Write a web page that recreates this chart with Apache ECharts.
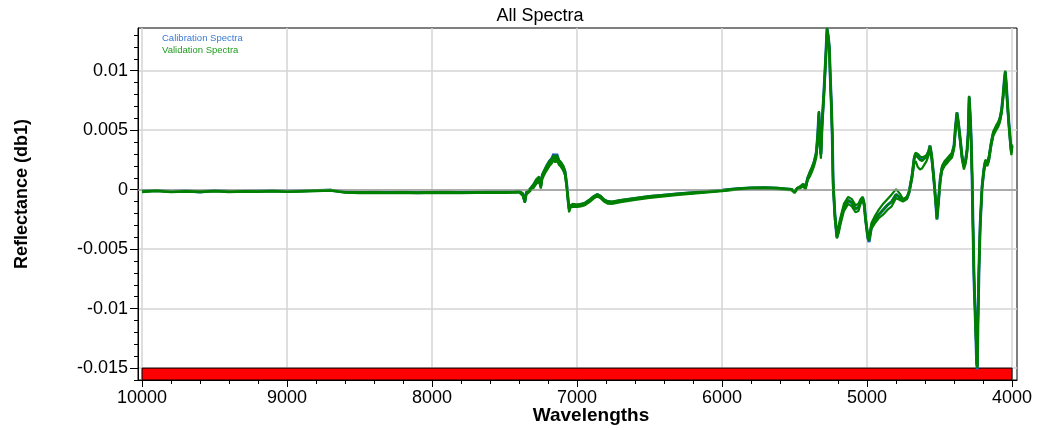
<!DOCTYPE html>
<html><head><meta charset="utf-8">
<script src="https://cdn.jsdelivr.net/npm/echarts@6/dist/echarts.min.js"></script>
<style>html,body{margin:0;padding:0;background:#fff}#c{width:1038px;height:430px}</style>
</head><body><div id="c"></div>
<script>
const wavenumbers = [10000,9900,9800,9700,9600,9500,9400,9300,9200,9100,9000,8900,8800,8700,8600,8500,8400,8300,8200,8100,8000,7900,7800,7700,7600,7500,7430,7400,7375,7360,7350,7330,7300,7280,7262,7250,7240,7220,7205,7190,7175,7160,7150,7140,7125,7110,7095,7083,7072,7062,7055,7045,7030,7000,6975,6945,6910,6880,6860,6840,6815,6790,6760,6700,6600,6500,6400,6300,6200,6100,6000,5900,5800,5700,5620,5560,5520,5500,5480,5460,5440,5425,5410,5395,5380,5365,5350,5340,5332,5325,5318,5310,5297,5284,5276,5268,5260,5254,5246,5240,5234,5222,5208,5195,5185,5160,5130,5105,5080,5060,5045,5030,5020,5010,4995,4986,4970,4945,4920,4890,4860,4830,4800,4790,4770,4752,4740,4725,4710,4690,4675,4665,4650,4635,4620,4605,4590,4575,4566,4555,4542,4530,4518,4507,4495,4483,4465,4450,4430,4414,4400,4390,4380,4370,4358,4345,4332,4320,4310,4302,4296,4289,4283,4276,4269,4262,4252,4244,4240,4235,4228,4220,4207,4195,4185,4170,4160,4145,4130,4110,4095,4083,4072,4062,4054,4047,4040,4032,4022,4012,4005,4000];

const validation1 = [-0.00015,-0.00008,-0.00018,-0.00012,-0.00016,-0.0001,-0.00017,-0.00013,-0.00015,-0.00011,-0.00016,-0.00012,-0.00008,-0.00005,-0.00022,-0.00025,-0.00024,-0.00026,-0.00024,-0.00027,-0.00025,-0.00023,-0.00026,-0.00024,-0.00022,-0.00023,-0.0002,-0.00018,-0.0004,-0.00105,-0.0003,-0.0001,0.0003,0.0007,0.0009,0.0002,0.0011,0.0016,0.0019,0.0022,0.0024,0.0028,0.0025,0.0028,0.0023,0.0021,0.0018,0.0014,0.0004,-0.0009,-0.0017,-0.0014,-0.0013,-0.00135,-0.0013,-0.0012,-0.0009,-0.0006,-0.00045,-0.0006,-0.0009,-0.00107,-0.0011,-0.00095,-0.00078,-0.00062,-0.0005,-0.00038,-0.00028,-0.00018,-0.00008,0.00005,0.00013,0.00014,0.0001,0.00004,0.0,-0.0002,0.0001,0.0002,0.0004,0.0001,0.0009,0.0013,0.0017,0.0022,0.003,0.0045,0.0063,0.0038,0.0029,0.0055,0.0082,0.0113,0.0135,0.0128,0.0118,0.0095,0.007,0.0045,0.0005,-0.0022,-0.0039,-0.0033,-0.0027,-0.0015,-0.0009,-0.0011,-0.0016,-0.0015,-0.001,-0.0007,-0.0012,-0.0025,-0.0039,-0.0042,-0.0031,-0.0025,-0.0021,-0.0017,-0.0013,-0.001,-0.0004,-0.0004,-0.0007,-0.0009,-0.001,-0.0007,-0.0002,0.0011,0.0026,0.0029,0.0027,0.0025,0.0024,0.0026,0.0027,0.0031,0.0036,0.0028,0.0012,-0.0005,-0.0024,-0.0009,0.0009,0.0018,0.0022,0.0024,0.0027,0.0029,0.0036,0.0052,0.0064,0.0055,0.0042,0.0027,0.0019,0.0024,0.0033,0.0048,0.0078,0.0062,0.0045,0.0012,-0.0034,-0.0076,-0.0112,-0.0145,-0.015,-0.0108,-0.0065,-0.003,0.0002,0.0016,0.0023,0.0022,0.0026,0.0038,0.0047,0.0052,0.0055,0.0059,0.0066,0.0078,0.009,0.0099,0.0088,0.0072,0.0055,0.004,0.0031,0.0036];

const validation2 = [-0.0001,-0.00005,-0.00014,-0.00009,-0.00012,-0.00007,-0.00013,-0.0001,-0.00011,-0.00008,-0.00012,-0.00009,-0.00005,-0.00002,-0.00018,-0.00021,-0.0002,-0.00022,-0.0002,-0.00023,-0.00021,-0.00019,-0.00022,-0.0002,-0.00018,-0.00019,-0.00015,-0.00012,-0.0003,-0.0009,-0.0002,0.0,0.00045,0.0009,0.0011,0.0004,0.0013,0.0018,0.0021,0.0024,0.0026,0.0029,0.0027,0.0029,0.0025,0.0023,0.002,0.0016,0.0006,-0.0007,-0.0015,-0.0013,-0.0012,-0.00125,-0.0012,-0.0011,-0.0008,-0.0005,-0.00038,-0.0005,-0.0008,-0.00097,-0.001,-0.00087,-0.0007,-0.00055,-0.00043,-0.00032,-0.00022,-0.00012,-0.00003,0.0001,0.00018,0.00019,0.00015,0.00009,0.00005,-0.00012,0.00016,0.00028,0.0005,0.0002,0.001,0.0015,0.0019,0.0024,0.0032,0.0048,0.0066,0.0041,0.0032,0.0058,0.0085,0.0116,0.0136,0.013,0.0121,0.0098,0.0073,0.0048,0.0008,-0.0019,-0.0037,-0.003,-0.0024,-0.0012,-0.0006,-0.0008,-0.0013,-0.0012,-0.0008,-0.0006,-0.0011,-0.0024,-0.0037,-0.004,-0.0028,-0.0022,-0.0017,-0.0012,-0.0008,-0.0004,0.00005,0.0,-0.0004,-0.0008,-0.0009,-0.0006,-0.0001,0.0013,0.0028,0.0031,0.003,0.0028,0.0027,0.0028,0.0029,0.0033,0.0037,0.003,0.0014,-0.0003,-0.0022,-0.0007,0.0011,0.002,0.0024,0.0026,0.0029,0.0031,0.0038,0.0054,0.0065,0.0057,0.0044,0.0029,0.0021,0.0026,0.0035,0.005,0.0079,0.0064,0.0047,0.0014,-0.0032,-0.0074,-0.011,-0.0143,-0.0148,-0.0106,-0.0063,-0.0028,0.0004,0.0018,0.0025,0.0024,0.0028,0.004,0.0049,0.0054,0.0057,0.0061,0.0068,0.008,0.0092,0.01,0.009,0.0074,0.0057,0.0042,0.0033,0.0038];

const validation3 = [-0.0002,-0.00012,-0.0002,-0.00016,-0.0002,-0.00014,-0.0002,-0.00017,-0.00018,-0.00015,-0.00019,-0.00016,-0.00012,-0.00009,-0.00026,-0.00029,-0.00028,-0.0003,-0.00028,-0.0003,-0.00029,-0.00027,-0.0003,-0.00028,-0.00026,-0.00027,-0.00025,-0.00024,-0.0005,-0.0011,-0.0004,-0.0002,0.00015,0.0005,0.0007,0.0001,0.0009,0.0014,0.0017,0.002,0.0022,0.0025,0.0023,0.0025,0.0021,0.0019,0.0016,0.0012,0.0002,-0.0011,-0.0019,-0.0015,-0.00145,-0.00145,-0.0014,-0.0013,-0.001,-0.0007,-0.00055,-0.0007,-0.001,-0.00117,-0.0012,-0.00105,-0.00086,-0.0007,-0.00057,-0.00045,-0.00034,-0.00024,-0.00013,0.0,0.00008,0.00009,0.00005,-0.00001,-0.00005,-0.00028,0.00004,0.00012,0.0003,0.0,0.0008,0.0011,0.0015,0.002,0.0027,0.0042,0.006,0.0035,0.0026,0.0052,0.0079,0.011,0.0132,0.0125,0.0115,0.0092,0.0067,0.0042,0.0002,-0.0025,-0.0041,-0.0036,-0.003,-0.0018,-0.0012,-0.0014,-0.0019,-0.0018,-0.0012,-0.0009,-0.0014,-0.0027,-0.0041,-0.0043,-0.0033,-0.0028,-0.0024,-0.0021,-0.0017,-0.0014,-0.0007,-0.0007,-0.0009,-0.001,-0.0011,-0.0008,-0.0003,0.0009,0.0022,0.0024,0.0019,0.0017,0.0018,0.0021,0.0024,0.0029,0.0034,0.0026,0.001,-0.0007,-0.0025,-0.0011,0.0007,0.0016,0.002,0.0022,0.0025,0.0027,0.0034,0.005,0.0062,0.0053,0.004,0.0025,0.0017,0.0022,0.0031,0.0046,0.0076,0.006,0.0043,0.001,-0.0036,-0.0078,-0.0114,-0.0147,-0.0149,-0.011,-0.0067,-0.0032,0.0,0.0014,0.0021,0.002,0.0024,0.0036,0.0045,0.005,0.0053,0.0057,0.0064,0.0076,0.0088,0.0096,0.0086,0.007,0.0053,0.0038,0.0029,0.0034];

const calibration1 = [-0.00012,-0.00006,-0.00015,-0.0001,-0.00019,-0.00008,-0.00014,-0.00016,-0.00012,-0.00009,-0.00014,-0.0001,-0.00006,-0.00004,-0.0002,-0.00023,-0.00022,-0.00024,-0.00021,-0.00025,-0.00022,-0.00021,-0.00024,-0.00022,-0.0002,-0.0002,-0.00017,-0.00014,-0.00035,-0.001,-0.00025,-0.00005,0.0004,0.0008,0.001,0.0003,0.0012,0.0017,0.0021,0.0024,0.0026,0.003,0.0026,0.003,0.0024,0.0022,0.0019,0.0015,0.0005,-0.0008,-0.0016,-0.0014,-0.0013,-0.0013,-0.00125,-0.00115,-0.00085,-0.00055,-0.0004,-0.00055,-0.00085,-0.001,-0.00105,-0.0009,-0.00074,-0.00058,-0.00046,-0.00035,-0.00025,-0.00015,-0.00005,0.00007,0.00015,0.00016,0.00012,0.00006,0.00002,-0.00016,0.00012,0.00024,0.00045,0.00015,0.00095,0.0014,0.0018,0.0023,0.0031,0.0046,0.0065,0.004,0.003,0.0056,0.0083,0.0114,0.0135,0.0129,0.0119,0.0096,0.0071,0.0046,0.0006,-0.0021,-0.004,-0.0033,-0.0027,-0.0015,-0.0009,-0.0011,-0.0016,-0.0015,-0.001,-0.0007,-0.0012,-0.0025,-0.004,-0.0044,-0.0031,-0.0025,-0.0021,-0.0017,-0.0013,-0.001,-0.0004,-0.0004,-0.0007,-0.0009,-0.001,-0.0007,-0.0002,0.0011,0.0026,0.003,0.0028,0.0026,0.0025,0.0027,0.0028,0.0032,0.0037,0.0029,0.0013,-0.0005,-0.0025,-0.0009,0.0009,0.0018,0.0022,0.0024,0.0027,0.003,0.0037,0.0053,0.0065,0.0056,0.0043,0.0028,0.002,0.0025,0.0034,0.0049,0.0078,0.0063,0.0046,0.0013,-0.0034,-0.0077,-0.0113,-0.0146,-0.0151,-0.0109,-0.0066,-0.003,0.0002,0.0016,0.0023,0.0022,0.0026,0.0038,0.0047,0.0052,0.0055,0.006,0.0067,0.0079,0.0091,0.0099,0.0089,0.0073,0.0056,0.0041,0.0032,0.0037];

const xMajorTicks = [10000,9000,8000,7000,6000,5000,4000];
const xMinorTicks = [10000,9800,9600,9400,9200,9000,8800,8600,8400,8200,8000,7800,7600,7400,7200,7000,6800,6600,6400,6200,6000,5800,5600,5400,5200,5000,4800,4600,4400,4200,4000];
const yMajorTicks = [-0.015,-0.01,-0.005,0,0.005,0.01];
const yMinorTicks = [-0.016,-0.015,-0.014,-0.013,-0.012,-0.011,-0.01,-0.009,-0.008,-0.007,-0.006,-0.005,-0.004,-0.003,-0.002,-0.001,0,0.001,0.002,0.003,0.004,0.005,0.006,0.007,0.008,0.009,0.01,0.011,0.012,0.013];
const xRange = [3966, 10028];
const yRange = [-0.016, 0.01359];
const bandRange = [10000, 4000, -0.016, -0.015];

const FONT = '"Liberation Sans", Arial, sans-serif';
function pairs(vals){ return wavenumbers.map((w,i)=>[w, vals[i]]); }

const chart = echarts.init(document.getElementById('c'), null, {renderer:'canvas'});
const GREEN = '#008000', BLUE = '#1a5fc8';

const xBase = {type:'value', inverse:true, min:xRange[0], max:xRange[1], position:'bottom'};
const yBase = {type:'value', min:yRange[0], max:yRange[1], position:'left'};

chart.setOption({
  animation:false,
  textStyle:{fontFamily:FONT},
  title:{text:'All Spectra', left:535, top:2, textAlign:'center',
    textStyle:{fontFamily:FONT, fontSize:18, fontWeight:'normal', color:'#000'}},
  grid:{left:138, right:21, top:28, bottom:50, show:true, borderColor:'#000', borderWidth:1,
    backgroundColor:'#fff', containLabel:false, outerBoundsMode:'none'},
  xAxis:[
    Object.assign({}, xBase, {
      name:'Wavelengths', nameLocation:'middle', nameGap:26, nameMoveOverlap:false,
      nameTextStyle:{fontFamily:FONT, fontSize:19, fontWeight:'bold', color:'#000', padding:[0,0,0,27]},
      axisLine:{show:true, onZero:false, lineStyle:{color:'#000', width:1}},
      axisTick:{show:true, length:7, customValues:xMajorTicks, lineStyle:{color:'#000'}},
      axisLabel:{show:true, customValues:xMajorTicks, margin:9, fontFamily:FONT, fontSize:18, color:'#000',
        formatter:v=>String(Math.round(v))},
      splitLine:{show:true, lineStyle:{color:'#d4d4d4', width:1.5}}
    }),
    Object.assign({}, xBase, {
      axisLine:{show:false, onZero:false},
      axisTick:{show:true, length:4, customValues:xMinorTicks, lineStyle:{color:'#000'}},
      axisLabel:{show:false},
      splitLine:{show:false}
    })
  ],
  yAxis:[
    Object.assign({}, yBase, {
      name:'Reflectance (db1)', nameLocation:'middle', nameGap:107, nameRotate:90, nameMoveOverlap:false,
      nameTextStyle:{fontFamily:FONT, fontSize:18, fontWeight:'bold', color:'#000', padding:[0,0,0,20]},
      axisLine:{show:true, onZero:false, lineStyle:{color:'#000', width:1}},
      axisTick:{show:true, length:8, customValues:yMajorTicks, lineStyle:{color:'#000'}},
      axisLabel:{show:true, customValues:yMajorTicks, margin:10, fontFamily:FONT, fontSize:18, color:'#000',
        formatter:v=>String(+(+v).toFixed(4))},
      splitLine:{show:true, lineStyle:{color:'#d4d4d4', width:1.5}}
    }),
    Object.assign({}, yBase, {
      axisLine:{show:false, onZero:false},
      axisTick:{show:true, length:4, customValues:yMinorTicks, lineStyle:{color:'#000'}},
      axisLabel:{show:false},
      splitLine:{show:false}
    })
  ],
  graphic:[
    {type:'text', left:162, top:33, style:{text:'Calibration Spectra', fill:'#3a7ad4', font:'9.5px ' + FONT}},
    {type:'text', left:162, top:45, style:{text:'Validation Spectra', fill:'#1f9a1f', font:'9.5px ' + FONT}}
  ],
  series:[
    {type:'line', name:'reference', data:[], z:1, silent:true,
      markLine:{silent:true, symbol:'none', label:{show:false},
        lineStyle:{color:'#9a9a9a', width:1.5, type:'solid'}, data:[{yAxis:0}]},
      markArea:{silent:true, itemStyle:{color:'#ff0000', opacity:1, borderColor:'#000', borderWidth:1},
        data:[[{xAxis:bandRange[0], yAxis:bandRange[2]},{xAxis:bandRange[1], yAxis:bandRange[3]}]]}
    },
    {type:'line', name:'Calibration Spectra', data:pairs(calibration1), z:3, showSymbol:false, symbol:'none',
      lineStyle:{color:BLUE, width:3}, itemStyle:{color:BLUE}},
    {type:'line', name:'Validation Spectra', data:pairs(validation2), z:4, showSymbol:false, symbol:'none',
      lineStyle:{color:GREEN, width:2.2}, itemStyle:{color:GREEN}},
    {type:'line', name:'Validation Spectra', data:pairs(validation3), z:4, showSymbol:false, symbol:'none',
      lineStyle:{color:GREEN, width:2.2}, itemStyle:{color:GREEN}},
    {type:'line', name:'Validation Spectra', data:pairs(validation1), z:5, showSymbol:false, symbol:'none',
      lineStyle:{color:GREEN, width:2.2}, itemStyle:{color:GREEN}}
  ]
});
</script></body></html>
